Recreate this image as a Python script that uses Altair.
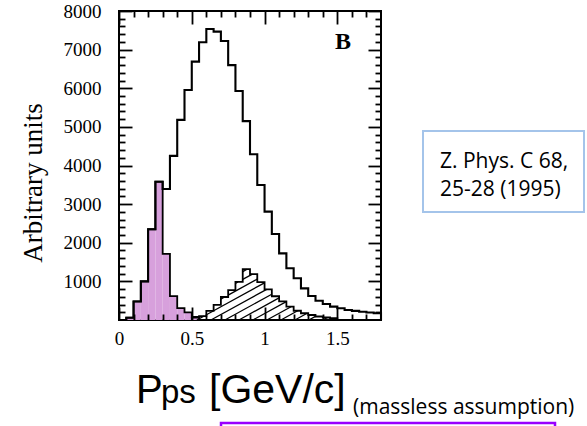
import altair as alt
import numpy as np
import pandas as pd

# ---------------- data ----------------
bin_edges = [round(0.05 * i, 2) for i in range(37)]          # GeV/c, 0.05 wide bins

total_counts = [0, 60, 480, 1000, 2350, 3580, 3390, 4250, 5180, 5955,
                6690, 7190, 7535, 7465, 7225, 6600, 5930, 5150, 4290, 3495,
                2805, 2225, 1725, 1340, 1080, 820, 620, 500, 415, 345,
                305, 260, 235, 215, 195, 175]

low_counts = [0, 60, 480, 1000, 2350, 3580, 1710, 620, 310, 195,
              80, 0, 0, 0, 0, 0, 0, 0, 0, 0,
              0, 0, 0, 0, 0, 0, 0, 0, 0, 0,
              0, 0, 0, 0, 0, 0]

hatched_counts = [0, 0, 0, 0, 0, 0, 0, 0, 0, 0,
                  60, 100, 235, 390, 595, 775, 985, 1315, 1190, 980,
                  795, 615, 480, 345, 240, 175, 130, 90, 65, 45,
                  0, 0, 0, 0, 0, 0]

x_major = [0, 0.5, 1, 1.5]
x_minor = [0.1, 0.2, 0.3, 0.4, 0.6, 0.7, 0.8, 0.9, 1.1, 1.2, 1.3, 1.4, 1.6, 1.7]
y_major = [1000, 2000, 3000, 4000, 5000, 6000, 7000, 8000]
y_minor = [v for v in range(200, 8000, 200) if v % 1000]

# ---------------- layout ----------------
W, H = 262, 309
LEFT, TOP = 119, 11


def step_frame(counts, close_left=True):
    nz = [i for i, v in enumerate(counts) if v > 0]
    a, b = nz[0], nz[-1]
    rows = []
    if close_left:
        rows.append((bin_edges[a], 0))
    for i in range(a, b + 1):
        rows.append((bin_edges[i], counts[i]))
    rows.append((bin_edges[b + 1], 0))
    return pd.DataFrame({"p": [r[0] for r in rows],
                         "n": [r[1] for r in rows],
                         "o": list(range(len(rows)))})


main_df = step_frame(total_counts)
low_line_df = step_frame(low_counts)
low_area_df = step_frame(low_counts, close_left=False)
hat_df = step_frame(hatched_counts)

# hatching: diagonal lines clipped to the hatched histogram
px_x = W / 1.8
px_y = H / 8000
slope = 0.55 * px_x / px_y
gap = 14 / px_x
xs_s = np.arange(0.40, 1.60, 0.0005)
idx = np.clip(np.floor(xs_s / 0.05 + 1e-9).astype(int), 0, 35)
hv = np.array(hatched_counts, dtype=float)[idx]
segs = []
x0 = 0.535 - 14 * gap
while x0 < 1.6:
    yl = slope * (xs_s - x0)
    inside = (yl >= 0) & (yl <= hv) & (hv > 0)
    d = np.diff(np.concatenate([[0], inside.astype(int), [0]]))
    starts = np.where(d == 1)[0]
    ends = np.where(d == -1)[0] - 1
    for s, e in zip(starts, ends):
        if xs_s[e] - xs_s[s] > 0.004:
            segs.append({"p": float(xs_s[s]), "n": float(yl[s]),
                         "p2": float(xs_s[e]), "n2": float(yl[e])})
    x0 += gap
hatch_df = pd.DataFrame(segs)

xscale = alt.Scale(domain=[0, 1.8], nice=False, zero=False)
yscale = alt.Scale(domain=[0, 8000], nice=False)

LABEL_FONT = "Liberation Serif"


def xaxis(orient, values, size, labels):
    kw = dict(orient=orient, values=values, tickSize=size, offset=-size,
              domain=False, labels=labels, title=None, grid=False,
              tickColor="black", tickWidth=1.8, zindex=1)
    if labels:
        kw.update(labelFont=LABEL_FONT, labelFontSize=19, labelColor="black",
                  labelPadding=9, labelFlush=False, format="~g")
    return alt.Axis(**kw)


def yaxis(orient, values, size, labels, title=None):
    kw = dict(orient=orient, values=values, tickSize=size, offset=-size,
              domain=False, labels=labels, grid=False,
              tickColor="black", tickWidth=1.8, zindex=1)
    if labels:
        kw.update(labelFont=LABEL_FONT, labelFontSize=19, labelColor="black",
                  labelPadding=18, format="d")
    if title:
        kw.update(title=title, titleFont=LABEL_FONT, titleFontSize=27,
                  titleFontWeight="normal", titleColor="black",
                  titleAngle=270, titleAlign="center", titleBaseline="alphabetic",
                  titleX=-91, titleY=171.5)
    else:
        kw.update(title=None)
    return alt.Axis(**kw)


PURPLE_FILL = "#d7a0dc"

low_area = alt.Chart(low_area_df).mark_area(
    interpolate="step-after", color=PURPLE_FILL, opacity=1
).encode(
    x=alt.X("p:Q", scale=xscale, axis=xaxis("bottom", x_minor, 6, False)),
    y=alt.Y("n:Q", scale=yscale, axis=yaxis("left", y_minor, 6, False)),
    order="o:Q",
)

hatch = alt.Chart(hatch_df).mark_rule(color="black", strokeWidth=1.3).encode(
    x=alt.X("p:Q", scale=xscale, axis=None),
    x2="p2:Q",
    y=alt.Y("n:Q", scale=yscale, axis=None),
    y2="n2:Q",
)

low_line = alt.Chart(low_line_df).mark_line(
    interpolate="step-after", color="black", strokeWidth=1.8
).encode(
    x=alt.X("p:Q", scale=xscale, axis=xaxis("top", x_major, 13, False)),
    y=alt.Y("n:Q", scale=yscale, axis=yaxis("right", y_major, 13, False)),
    order="o:Q",
)

hat_line = alt.Chart(hat_df).mark_line(
    interpolate="step-after", color="black", strokeWidth=1.8
).encode(
    x=alt.X("p:Q", scale=xscale, axis=xaxis("top", x_minor, 6, False)),
    y=alt.Y("n:Q", scale=yscale, axis=yaxis("right", y_minor, 6, False)),
    order="o:Q",
)

main_line = alt.Chart(main_df).mark_line(
    interpolate="step-after", color="black", strokeWidth=2.1
).encode(
    x=alt.X("p:Q", scale=xscale, axis=xaxis("bottom", x_major, 13, True)),
    y=alt.Y("n:Q", scale=yscale,
            axis=yaxis("left", y_major, 13, True, title="Arbitrary units")),
    order="o:Q",
)

one = pd.DataFrame({"k": [0]})


def label(text, x, y, font, size, align="left", color="black", weight="normal"):
    return alt.Chart(one).mark_text(
        font=font, fontSize=size, align=align, baseline="alphabetic",
        color=color, fontWeight=weight
    ).encode(x=alt.value(x), y=alt.value(y), text=alt.value(text))


panel_letter = label("B", 224, 38, LABEL_FONT, 24, align="center", weight="bold")

ref_box = alt.Chart(one).mark_rect(
    fill="white", stroke="#a4c4ea", strokeWidth=2
).encode(x=alt.value(304), x2=alt.value(465), y=alt.value(120), y2=alt.value(201))
ref_1 = label("Z. Phys. C 68,", 321, 157, "Open Sans", 21)
ref_2 = label("25-28 (1995)", 321, 185, "Open Sans", 21)

xt_p = label("P", 17, 392, "Liberation Sans", 40)
xt_ps = label("ps", 42, 392, "Liberation Sans", 33)
xt_unit = label("[GeV/c]", 90, 392, "Liberation Sans", 41)
xt_note = label("(massless assumption)", 234, 403, "Open Sans", 21)

purple_box = alt.Chart(one).mark_rect(
    filled=False, stroke="#9900ff", strokeWidth=2.5
).encode(x=alt.value(102), x2=alt.value(436), y=alt.value(412), y2=alt.value(470))

chart = alt.layer(
    low_area, hatch, low_line, hat_line, main_line, panel_letter,
    ref_box, ref_1, ref_2, xt_p, xt_ps, xt_unit, xt_note, purple_box,
).resolve_axis(
    x="independent", y="independent"
).properties(
    width=W, height=H,
    autosize=alt.AutoSizeParams(type="none"),
    padding={"left": LEFT, "top": TOP, "right": 587 - LEFT - W, "bottom": 426 - TOP - H},
    background="white",
).configure_view(
    stroke="black", strokeWidth=2
)

chart.save("out.html", embed_options={"renderer": "svg", "actions": False})
